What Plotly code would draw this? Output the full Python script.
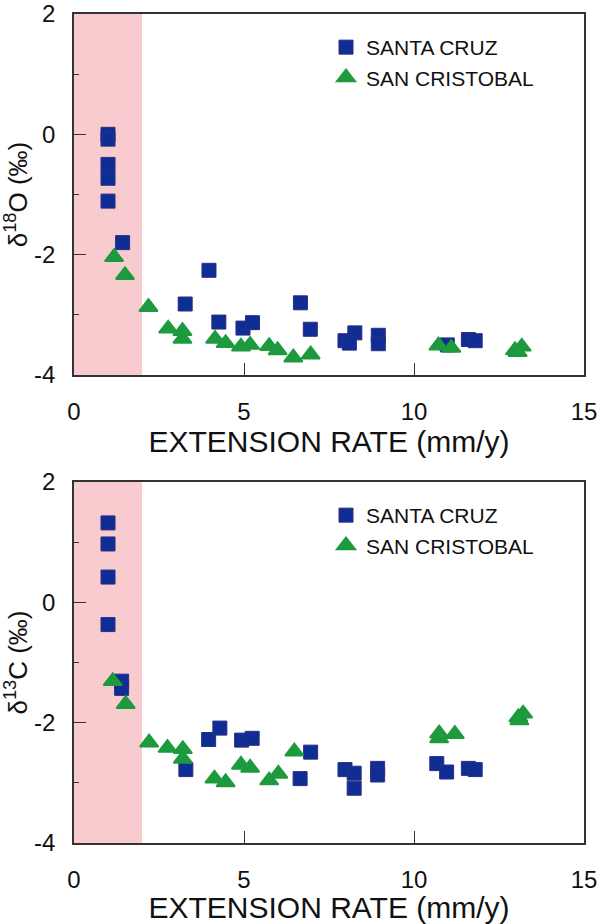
import plotly.graph_objects as go

# ---------------- data ----------------
# delta 18O panel
sc_x_O = [1.0, 1.0, 1.0, 1.0, 1.0, 1.43, 3.97, 3.27, 4.26, 4.97, 5.25, 6.66, 6.95,
          7.97, 8.26, 8.1, 8.95, 8.95, 10.98, 11.6, 11.8]
sc_y_O = [0.0, -0.08, -0.5, -0.73, -1.11, -1.8, -2.26, -2.82, -3.12, -3.22, -3.13, -2.8, -3.24,
          -3.43, -3.3, -3.47, -3.34, -3.48, -3.5, -3.41, -3.43]
scr_x_O = [1.18, 1.5, 2.19, 2.77, 3.19, 3.19, 4.15, 4.46, 4.91, 5.18, 5.74, 5.99, 6.45, 6.96,
           10.72, 11.1, 12.97, 13.17, 13.05]
scr_y_O = [-2.04, -2.34, -2.87, -3.23, -3.27, -3.4, -3.4, -3.47, -3.53, -3.5, -3.52, -3.59, -3.71, -3.66,
           -3.51, -3.55, -3.59, -3.53, -3.62]

# delta 13C panel
sc_x_C = [1.0, 1.0, 1.0, 1.0, 1.40, 1.40, 3.29, 3.96, 4.29, 4.93, 5.24, 6.65, 6.96,
          7.97, 8.24, 8.24, 8.93, 8.93, 10.67, 10.96, 11.6, 11.8]
sc_y_C = [1.32, 0.97, 0.42, -0.37, -1.31, -1.43, -2.78, -2.28, -2.09, -2.29, -2.26, -2.93, -2.49,
          -2.78, -2.84, -3.09, -2.76, -2.87, -2.68, -2.82, -2.76, -2.78]
scr_x_C = [1.14, 1.52, 2.21, 2.75, 3.2, 3.2, 4.13, 4.46, 4.91, 5.18, 5.74, 6.01, 6.48,
           10.74, 10.74, 11.2, 13.07, 13.21, 13.1]
scr_y_C = [-1.31, -1.69, -2.33, -2.42, -2.44, -2.6, -2.93, -2.99, -2.7, -2.75, -2.96, -2.85, -2.48,
           -2.18, -2.26, -2.19, -1.91, -1.85, -1.96]

series_names = ["SANTA CRUZ", "SAN CRISTOBAL"]
x_ticks = [0, 5, 10, 15]
y_ticks = [-4, -2, 0, 2]
y_ticktext = ["-4", "-2", "0", "2"]
shade_range = [0, 2]

# ---------------- style ----------------
FONT = "Liberation Sans, Arial, Helvetica, sans-serif"
BLUE = "#102d96"
GREEN = "#1e9a3e"
PINK = "#f8cbcf"
AX = "#333333"

fig = go.Figure()

def sq(x, y, xa, ya, leg):
    return go.Scatter(x=x, y=y, mode="markers", name=series_names[0], xaxis=xa, yaxis=ya,
                      legend=leg,
                      marker=dict(symbol="square", size=14, color=BLUE,
                                  line=dict(color="#2a2f80", width=1)))

def tri(x, y, xa, ya, leg):
    return go.Scatter(x=x, y=y, mode="markers", name=series_names[1], xaxis=xa, yaxis=ya,
                      legend=leg,
                      marker=dict(symbol="triangle-up", size=16, color=GREEN,
                                  line=dict(color=GREEN, width=1.8)))

fig.add_trace(sq(sc_x_O, sc_y_O, "x", "y", "legend"))
fig.add_trace(tri(scr_x_O, scr_y_O, "x", "y", "legend"))
fig.add_trace(sq(sc_x_C, sc_y_C, "x2", "y2", "legend2"))
fig.add_trace(tri(scr_x_C, scr_y_C, "x2", "y2", "legend2"))

W, H = 600, 924
xdom = [74 / W, 584 / W]
ydom_top = [1 - 375 / H, 1 - 14 / H]
ydom_bot = [1 - 843 / H, 1 - 482 / H]

def xaxis(anchor, domain):
    return dict(domain=domain, anchor=anchor, range=[0, 15], tickvals=x_ticks,
                ticks="inside", ticklen=12, tickwidth=1.2, tickcolor=AX,
                showline=True, linecolor=AX, linewidth=1.5, mirror=True,
                showgrid=False, zeroline=False,
                tickfont=dict(family=FONT, size=24, color="#111"),
                ticklabelstandoff=14,
                title=dict(text="EXTENSION RATE (mm/y)", standoff=6,
                           font=dict(family=FONT, size=30, color="#111")))

def yaxis(anchor, domain, title):
    return dict(domain=domain, anchor=anchor, range=[-4, 2], tickvals=y_ticks,
                ticktext=y_ticktext,
                ticks="inside", ticklen=12, tickwidth=1.2, tickcolor=AX,
                minor=dict(dtick=1, ticks="inside", ticklen=5, tickcolor=AX, tickwidth=1.2),
                showline=True, linecolor=AX, linewidth=1.5, mirror=True,
                showgrid=False, zeroline=False,
                tickfont=dict(family=FONT, size=24, color="#111"),
                ticklabelstandoff=12,
                title=dict(text=title, standoff=2,
                           font=dict(family=FONT, size=26, color="#111")))

fig.update_layout(
    width=W, height=H,
    margin=dict(l=0, r=0, t=0, b=0, autoexpand=False),
    paper_bgcolor="white", plot_bgcolor="white",
    xaxis=xaxis("y", xdom),
    yaxis=yaxis("x", ydom_top, "δ<sup>18</sup>O (‰)"),
    xaxis2=xaxis("y2", xdom),
    yaxis2=yaxis("x2", ydom_bot, "δ<sup>13</sup>C (‰)"),
    legend=dict(x=326 / W, y=1 - 27 / H, xanchor="left", yanchor="top",
                bgcolor="rgba(0,0,0,0)", tracegroupgap=0,
                font=dict(family=FONT, size=21, color="#111")),
    legend2=dict(x=326 / W, y=1 - 495 / H, xanchor="left", yanchor="top",
                 bgcolor="rgba(0,0,0,0)", tracegroupgap=0,
                 font=dict(family=FONT, size=21, color="#111")),
    showlegend=True,
)

for xr, yr in (("x", "y"), ("x2", "y2")):
    fig.add_shape(type="rect", xref=xr, yref=yr, x0=shade_range[0], x1=shade_range[1],
                  y0=-4, y1=2, fillcolor=PINK, line=dict(width=0), layer="below")

fig.write_html("out.html")
